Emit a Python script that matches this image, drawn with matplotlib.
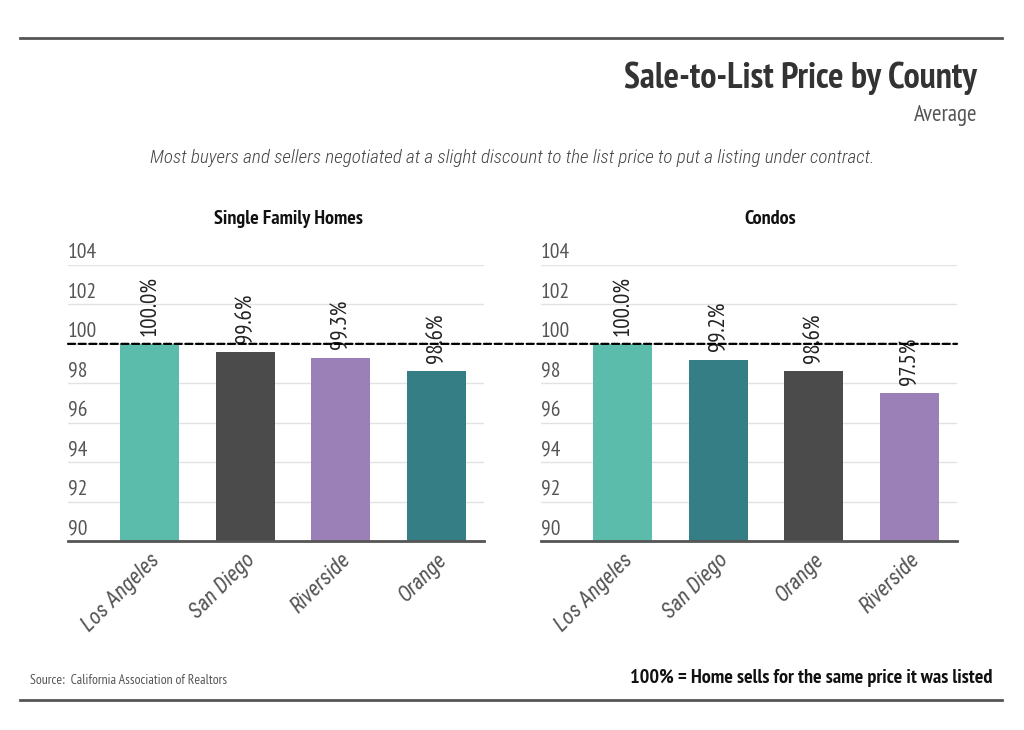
# -*- coding: utf-8 -*-
import matplotlib
matplotlib.use('Agg')
import matplotlib.pyplot as plt
import matplotlib.transforms as mtransforms
from matplotlib.patches import ConnectionPatch
from matplotlib.lines import Line2D

plt.rcParams['font.family'] = ['PT Sans Narrow', 'DejaVu Sans']
ITALIC = ['Roboto Condensed', 'DejaVu Sans']

# data
sfh_counties = ['Los Angeles', 'San Diego', 'Riverside', 'Orange']
sfh_values = [100.0, 99.6, 99.3, 98.6]
condo_counties = ['Los Angeles', 'San Diego', 'Orange', 'Riverside']
condo_values = [100.0, 99.2, 98.6, 97.5]
y_ticks = [90, 92, 94, 96, 98, 100, 102, 104]
parity = 100

teal, grey, purple, dteal = '#5bbcab', '#4b4b4b', '#9b7fb7', '#357e86'
sfh_colors = [teal, grey, purple, dteal]
condo_colors = [teal, dteal, grey, purple]

fig = plt.figure(figsize=(10.24, 7.3), dpi=100)
ax1 = fig.add_axes([68/1024, 189/730, 416/1024, 276/730])
ax2 = fig.add_axes([541/1024, 189/730, 416/1024, 276/730])

def panel(ax, counties, values, colors, title, title_x):
    x = range(len(counties))
    bars = ax.bar(x, values, width=0.62, color=colors, zorder=2)
    ax.set_ylim(90, 104)
    ax.set_xlim(-0.857, 3.5)
    ax.set_yticks(y_ticks)
    ax.yaxis.grid(True, color='#e2e2e2', lw=1, zorder=0)
    ax.tick_params(axis='y', length=0, labelleft=False)
    ax.tick_params(axis='x', length=0, pad=6)
    ax.set_xticks(list(x))
    ax.set_xticklabels(counties, rotation=45, ha='right', rotation_mode='anchor',
                       fontsize=15.5, color='#555555', style='italic', family=ITALIC)
    for s in ['top', 'right', 'left']:
        ax.spines[s].set_visible(False)
    ax.spines['bottom'].set_color('#555555')
    ax.spines['bottom'].set_linewidth(2)
    ax.spines['bottom'].set_zorder(4)
    trans = mtransforms.offset_copy(mtransforms.blended_transform_factory(ax.transAxes, ax.transData),
                                    fig=fig, x=0, y=2, units='points')
    for v in y_ticks:
        ax.text(0, v, str(v), transform=trans, ha='left', va='bottom',
                fontsize=15.5, color='#555555')
    for b, v in zip(bars, values):
        ax.annotate('%.1f%%' % v, (b.get_x() + b.get_width() / 2, v),
                    xytext=(0, 6), textcoords='offset points', rotation=90,
                    ha='center', va='bottom', fontsize=16.5, color='#222222', zorder=3)
    ax.text(title_x, 1.165, title, transform=mtransforms.blended_transform_factory(ax.transData, ax.transAxes),
            ha='center', va='center', fontsize=14.5, fontweight='bold', color='#111111')

panel(ax1, sfh_counties, sfh_values, sfh_colors, 'Single Family Homes', 1.45)
panel(ax2, condo_counties, condo_values, condo_colors, 'Condos', 1.54)

# 100% reference line across both panels
con = ConnectionPatch(xyA=(0, parity), coordsA=ax1.get_yaxis_transform(),
                      xyB=(1, parity), coordsB=ax2.get_yaxis_transform(),
                      color='black', lw=1.6, linestyle=(0, (3.2, 1.6)), zorder=5)
fig.add_artist(con)

# frame lines
fig.add_artist(Line2D([20/1024, 1002/1024], [1 - 38/730, 1 - 38/730], color='#555555', lw=2))
fig.add_artist(Line2D([20/1024, 1002/1024], [1 - 700/730, 1 - 700/730], color='#555555', lw=2))

fig.text(977/1024, 1 - 78/730, 'Sale-to-List Price by County', ha='right', va='center',
         fontsize=26, fontweight='bold', color='#333333')
fig.text(977/1024, 1 - 115/730, 'Average', ha='right', va='center', fontsize=16.5, color='#555555')
fig.text(512/1024, 1 - 158/730,
         'Most buyers and sellers negotiated at a slight discount to the list price to put a listing under contract.',
         ha='center', va='center', fontsize=13.8, style='italic', weight=300, family=ITALIC, color='#444444')
fig.text(30/1024, 1 - 680/730, 'Source:  California Association of Realtors', ha='left', va='center',
         fontsize=9.9, color='#555555')
fig.text(992/1024, 1 - 678/730, '100% = Home sells for the same price it was listed', ha='right',
         va='center', fontsize=14.6, fontweight='bold', color='#111111')

fig.savefig('out.png', dpi=100, facecolor='white')
